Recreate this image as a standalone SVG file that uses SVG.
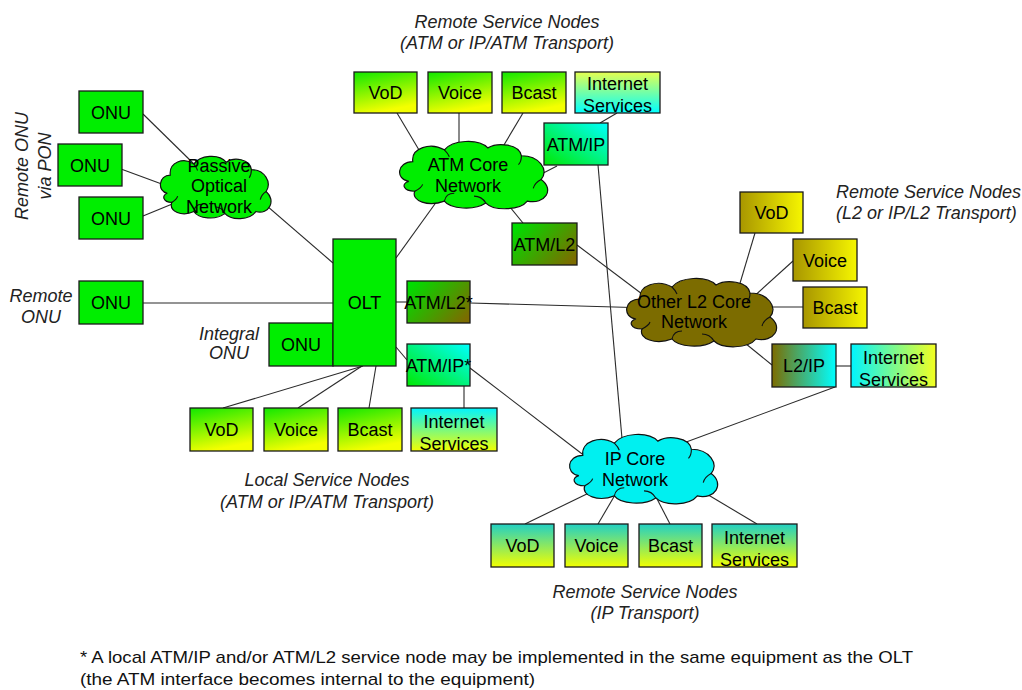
<svg xmlns="http://www.w3.org/2000/svg" xmlns:xlink="http://www.w3.org/1999/xlink" width="1022" height="690" viewBox="0 0 1022 690">
  <style>
    text { font-family: "Liberation Sans", Arial, sans-serif; font-size: 18px; fill: #000; }
    .lbl { text-anchor: middle; }
    .it { font-style: italic; fill: #222; }
    .mid { text-anchor: middle; }
    .box { stroke: #1a1a1a; stroke-width: 1.3; }
    .conn line { stroke: #2a2a2a; stroke-width: 1.1; }
    .cloud-outline { stroke: #111; stroke-width: 1.2; vector-effect: non-scaling-stroke; }
    .cloud-arc { fill: none; stroke: #111; stroke-width: 1.1; vector-effect: non-scaling-stroke; }
    .note { font-size: 17px; fill: #111; }
  </style>
  <defs>
    <linearGradient id="gGreenYellow" x1="0" y1="0" x2="0.3" y2="1">
      <stop offset="0" stop-color="#10e800"/>
      <stop offset="1" stop-color="#f4ff00"/>
    </linearGradient>
    <linearGradient id="gYellowCyan" x1="0" y1="0" x2="0" y2="1">
      <stop offset="0" stop-color="#e6ff50"/>
      <stop offset="1" stop-color="#00ffff"/>
    </linearGradient>
    <linearGradient id="gCyanYellow" x1="0" y1="0" x2="0" y2="1">
      <stop offset="0" stop-color="#00f4ff"/>
      <stop offset="1" stop-color="#f4ff00"/>
    </linearGradient>
    <linearGradient id="gTealYellow" x1="0" y1="0" x2="0" y2="1">
      <stop offset="0" stop-color="#22d0c4"/>
      <stop offset="1" stop-color="#f2ff00"/>
    </linearGradient>
    <linearGradient id="gOliveYellow" x1="0" y1="0" x2="1" y2="0">
      <stop offset="0" stop-color="#a89600"/>
      <stop offset="1" stop-color="#f6f600"/>
    </linearGradient>
    <linearGradient id="gCyanYellowH" x1="0" y1="0" x2="1" y2="0">
      <stop offset="0" stop-color="#00f4ff"/>
      <stop offset="1" stop-color="#f4ff20"/>
    </linearGradient>
    <linearGradient id="gGreenOlive" x1="0" y1="0.2" x2="1" y2="0.8">
      <stop offset="0" stop-color="#00dd00"/>
      <stop offset="1" stop-color="#7c6c00"/>
    </linearGradient>
    <linearGradient id="gGreenCyan" x1="0" y1="1" x2="1" y2="0">
      <stop offset="0" stop-color="#00e800"/>
      <stop offset="1" stop-color="#00ffff"/>
    </linearGradient>
    <linearGradient id="gOliveCyan" x1="0" y1="0" x2="1" y2="0">
      <stop offset="0" stop-color="#7c6c00"/>
      <stop offset="1" stop-color="#00ffff"/>
    </linearGradient>

    <!-- reusable cloud outline with the small inner fold arcs -->
    <symbol id="cloud" viewBox="0 0 160 68" preserveAspectRatio="none" overflow="visible">
      <path class="cloud-outline" d="M 14,42 C 0,40 2,22 18,22 C 16,8 36,2 50,10 C 58,0 84,-2 94,8 C 104,2 126,4 128,16 C 146,16 156,30 148,40 C 162,50 152,66 134,62 C 126,72 100,72 92,64 C 80,72 56,70 50,62 C 34,68 16,62 20,52 C 8,52 6,44 14,42 Z"/>
      <path class="cloud-arc" d="M 20,52 C 24,50 27,48 28,45"/>
      <path class="cloud-arc" d="M 50,62 C 51,57 55,54 60,54"/>
      <path class="cloud-arc" d="M 92,64 C 89,59 85,57 80,57"/>
      <path class="cloud-arc" d="M 148,40 C 144,42 141,45 140,49"/>
      <path class="cloud-arc" d="M 128,16 C 128,20 127,23 125,25"/>
      <path class="cloud-arc" d="M 50,10 C 52,12 54,14 55,17"/>
    </symbol>
  </defs>

  <rect width="1022" height="690" fill="#fff"/>

  <!-- connectors -->
  <g id="connectors" class="conn">
    <line x1="143" y1="114" x2="195" y2="165"/>
    <line x1="121" y1="169" x2="178" y2="190"/>
    <line x1="143" y1="216" x2="182" y2="200"/>
    <line x1="252" y1="193" x2="333" y2="263"/>
    <line x1="143" y1="303" x2="333" y2="303"/>
    <line x1="396" y1="258" x2="445" y2="190"/>
    <line x1="397" y1="113" x2="425" y2="160"/>
    <line x1="459" y1="113" x2="459" y2="160"/>
    <line x1="523" y1="113" x2="495" y2="160"/>
    <line x1="520" y1="185" x2="557" y2="166"/>
    <line x1="600" y1="123" x2="617" y2="113"/>
    <line x1="500" y1="195" x2="523" y2="223"/>
    <line x1="598" y1="165" x2="623" y2="450"/>
    <line x1="577" y1="245" x2="650" y2="300"/>
    <line x1="396" y1="302" x2="407" y2="302"/>
    <line x1="470" y1="303" x2="650" y2="308"/>
    <line x1="396" y1="347" x2="407" y2="360"/>
    <line x1="464" y1="386" x2="464" y2="408"/>
    <line x1="470" y1="368" x2="590" y2="460"/>
    <line x1="363" y1="366" x2="223" y2="408"/>
    <line x1="362" y1="366" x2="298" y2="408"/>
    <line x1="376" y1="366" x2="369" y2="408"/>
    <line x1="755" y1="233" x2="735" y2="300"/>
    <line x1="793" y1="261" x2="750" y2="300"/>
    <line x1="760" y1="307" x2="803" y2="307"/>
    <line x1="735" y1="335" x2="772" y2="365"/>
    <line x1="836" y1="366" x2="851" y2="366"/>
    <line x1="835" y1="387" x2="670" y2="448"/>
    <line x1="595" y1="490" x2="525" y2="524"/>
    <line x1="615" y1="495" x2="598" y2="524"/>
    <line x1="655" y1="495" x2="670" y2="524"/>
    <line x1="700" y1="490" x2="757" y2="524"/>
  </g>

  <!-- PON side -->
  <g id="onu-pon-1"><rect class="box" x="79" y="91" width="64" height="42" fill="#00ee00"/><text class="lbl" x="111" y="118.5">ONU</text></g>
  <g id="onu-pon-2"><rect class="box" x="58" y="144" width="64" height="42" fill="#00ee00"/><text class="lbl" x="90" y="171.5">ONU</text></g>
  <g id="onu-pon-3"><rect class="box" x="79" y="197" width="64" height="42" fill="#00ee00"/><text class="lbl" x="111" y="224.5">ONU</text></g>
  <g id="pon-cloud">
    <use xlink:href="#cloud" x="157" y="155" width="118" height="62" fill="#00ee00"/>
    <text class="lbl" x="219" y="171.5">Passive</text>
    <text class="lbl" x="219" y="192">Optical</text>
    <text class="lbl" x="219" y="213">Network</text>
  </g>
  <g id="label-pon">
    <text class="it mid" transform="translate(28,166) rotate(-90)">Remote ONU</text>
    <text class="it mid" transform="translate(51,166) rotate(-90)">via PON</text>
  </g>

  <!-- remote and integral ONUs -->
  <g id="onu-remote"><rect class="box" x="79" y="281" width="64" height="43" fill="#00ee00"/><text class="lbl" x="111" y="309">ONU</text></g>
  <g id="label-remote-onu">
    <text class="it mid" x="41" y="301.5">Remote</text>
    <text class="it mid" x="41" y="323">ONU</text>
  </g>
  <g id="onu-integral"><rect class="box" x="269" y="323" width="64" height="43" fill="#00ee00"/><text class="lbl" x="301" y="351">ONU</text></g>
  <g id="label-integral-onu">
    <text class="it mid" x="229" y="339.5">Integral</text>
    <text class="it mid" x="229" y="358.5">ONU</text>
  </g>

  <!-- OLT and co-located nodes -->
  <g id="olt"><rect class="box" x="333" y="239" width="63" height="127" fill="#00ee00"/><text class="lbl" x="364.5" y="309">OLT</text></g>
  <g id="atm-l2-local"><rect class="box" x="407" y="281" width="63" height="42" fill="url(#gGreenOlive)"/><text class="lbl" x="438.5" y="308.5">ATM/L2*</text></g>
  <g id="atm-ip-local"><rect class="box" x="407" y="344" width="63" height="42" fill="url(#gGreenCyan)"/><text class="lbl" x="438.5" y="371.5">ATM/IP*</text></g>

  <!-- local service nodes -->
  <g id="local-vod"><rect class="box" x="190" y="408" width="63" height="43" fill="url(#gGreenYellow)"/><text class="lbl" x="221.5" y="436">VoD</text></g>
  <g id="local-voice"><rect class="box" x="264" y="408" width="64" height="43" fill="url(#gGreenYellow)"/><text class="lbl" x="296" y="436">Voice</text></g>
  <g id="local-bcast"><rect class="box" x="338" y="408" width="64" height="43" fill="url(#gGreenYellow)"/><text class="lbl" x="370" y="436">Bcast</text></g>
  <g id="local-internet"><rect class="box" x="411" y="408" width="86" height="43" fill="url(#gCyanYellow)"/><text class="lbl" x="454" y="428">Internet</text><text class="lbl" x="454" y="450">Services</text></g>
  <g id="label-local">
    <text class="it mid" x="327" y="486">Local Service Nodes</text>
    <text class="it mid" x="327" y="508">(ATM or IP/ATM Transport)</text>
  </g>

  <!-- ATM core and its service nodes -->
  <g id="atm-vod"><rect class="box" x="354" y="72" width="63" height="41" fill="url(#gGreenYellow)"/><text class="lbl" x="385.5" y="99">VoD</text></g>
  <g id="atm-voice"><rect class="box" x="428" y="72" width="64" height="41" fill="url(#gGreenYellow)"/><text class="lbl" x="460" y="99">Voice</text></g>
  <g id="atm-bcast"><rect class="box" x="502" y="72" width="64" height="41" fill="url(#gGreenYellow)"/><text class="lbl" x="534" y="99">Bcast</text></g>
  <g id="atm-internet"><rect class="box" x="575" y="72" width="85" height="41" fill="url(#gYellowCyan)"/><text class="lbl" x="617.5" y="90">Internet</text><text class="lbl" x="617.5" y="112">Services</text></g>
  <g id="atm-ip"><rect class="box" x="544" y="123" width="64" height="42" fill="url(#gGreenCyan)"/><text class="lbl" x="576" y="150.5">ATM/IP</text></g>
  <g id="atm-cloud">
    <use xlink:href="#cloud" x="395" y="140" width="158" height="67" fill="#00ee00"/>
    <text class="lbl" x="468" y="170.5">ATM Core</text>
    <text class="lbl" x="468" y="191.5">Network</text>
  </g>
  <g id="atm-l2"><rect class="box" x="512" y="223" width="65" height="42" fill="url(#gGreenOlive)"/><text class="lbl" x="544.5" y="250.5">ATM/L2</text></g>
  <g id="label-atm">
    <text class="it mid" x="507" y="28">Remote Service Nodes</text>
    <text class="it mid" x="507" y="49">(ATM or IP/ATM Transport)</text>
  </g>

  <!-- other L2 core and its service nodes -->
  <g id="l2-vod"><rect class="box" x="740" y="192" width="63" height="41" fill="url(#gOliveYellow)"/><text class="lbl" x="771.5" y="219">VoD</text></g>
  <g id="l2-voice"><rect class="box" x="793" y="239" width="64" height="42" fill="url(#gOliveYellow)"/><text class="lbl" x="825" y="266.5">Voice</text></g>
  <g id="l2-bcast"><rect class="box" x="803" y="287" width="64" height="41" fill="url(#gOliveYellow)"/><text class="lbl" x="835" y="314">Bcast</text></g>
  <g id="l2-cloud">
    <use xlink:href="#cloud" x="622" y="277" width="160" height="68" fill="#7c6c00"/>
    <text class="lbl" x="694" y="308">Other L2 Core</text>
    <text class="lbl" x="694" y="328">Network</text>
  </g>
  <g id="l2-ip"><rect class="box" x="772" y="344" width="64" height="43" fill="url(#gOliveCyan)"/><text class="lbl" x="804" y="372">L2/IP</text></g>
  <g id="l2-internet"><rect class="box" x="851" y="344" width="85" height="43" fill="url(#gCyanYellowH)"/><text class="lbl" x="893.5" y="364">Internet</text><text class="lbl" x="893.5" y="386">Services</text></g>
  <g id="label-l2">
    <text class="it" x="836" y="198">Remote Service Nodes</text>
    <text class="it" x="836" y="219">(L2 or IP/L2 Transport)</text>
  </g>

  <!-- IP core and its service nodes -->
  <g id="ip-cloud">
    <use xlink:href="#cloud" x="565" y="433" width="158" height="69" fill="#00f0f0"/>
    <text class="lbl" x="635" y="465">IP Core</text>
    <text class="lbl" x="635" y="486">Network</text>
  </g>
  <g id="ip-vod"><rect class="box" x="491" y="524" width="63" height="43" fill="url(#gTealYellow)"/><text class="lbl" x="522.5" y="552">VoD</text></g>
  <g id="ip-voice"><rect class="box" x="565" y="524" width="63" height="43" fill="url(#gTealYellow)"/><text class="lbl" x="596.5" y="552">Voice</text></g>
  <g id="ip-bcast"><rect class="box" x="639" y="524" width="63" height="43" fill="url(#gTealYellow)"/><text class="lbl" x="670.5" y="552">Bcast</text></g>
  <g id="ip-internet"><rect class="box" x="712" y="524" width="85" height="43" fill="url(#gTealYellow)"/><text class="lbl" x="754.5" y="544">Internet</text><text class="lbl" x="754.5" y="566">Services</text></g>
  <g id="label-ip">
    <text class="it mid" x="645" y="598">Remote Service Nodes</text>
    <text class="it mid" x="645" y="619">(IP Transport)</text>
  </g>

  <!-- footnote -->
  <g id="footnote">
    <text class="note" x="80" y="663" textLength="833" lengthAdjust="spacingAndGlyphs">* A local ATM/IP and/or ATM/L2 service node may be implemented in the same equipment as the OLT</text>
    <text class="note" x="80" y="685" textLength="455" lengthAdjust="spacingAndGlyphs">(the ATM interface becomes internal to the equipment)</text>
  </g>
</svg>
